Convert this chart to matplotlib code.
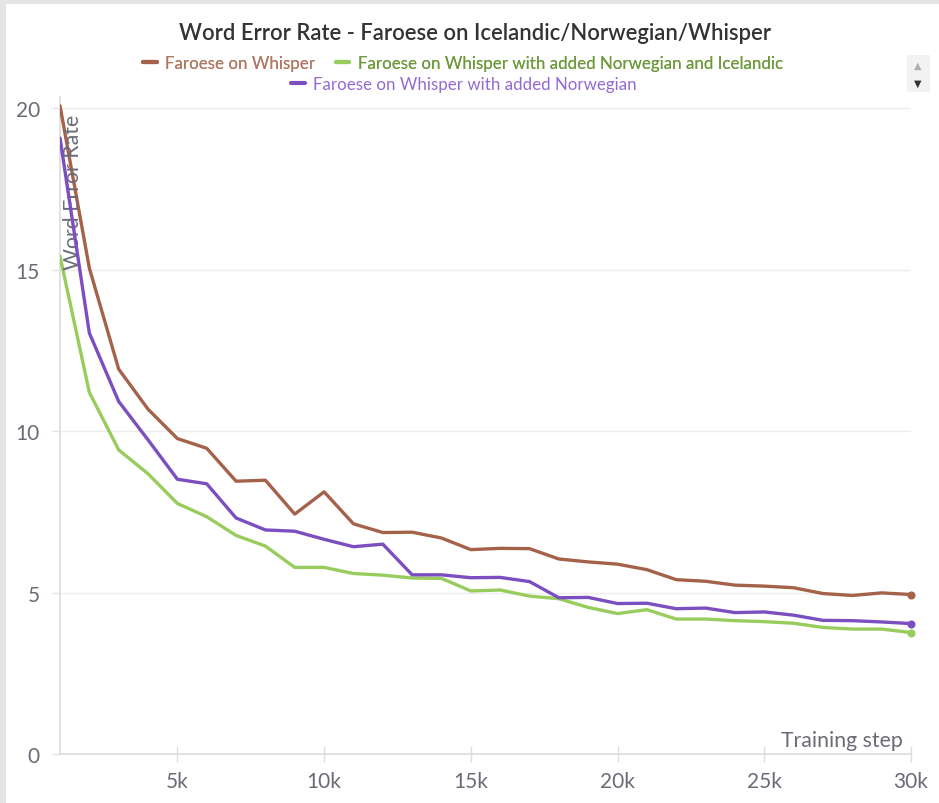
import matplotlib
matplotlib.use("Agg")
import matplotlib.pyplot as plt
from matplotlib.patches import Rectangle
from matplotlib.ticker import FuncFormatter

# ---- data ----
steps = list(range(1000, 31000, 1000))
wer_whisper = [20.08, 15.05, 11.92, 10.68, 9.77, 9.47, 8.45, 8.48, 7.43, 8.12,
               7.13, 6.86, 6.87, 6.69, 6.33, 6.37, 6.36, 6.04, 5.95, 5.88,
               5.71, 5.40, 5.35, 5.23, 5.20, 5.15, 4.97, 4.91, 4.99, 4.94]
wer_nor_ice = [15.42, 11.20, 9.42, 8.68, 7.76, 7.35, 6.77, 6.44, 5.78, 5.78,
               5.59, 5.54, 5.45, 5.44, 5.05, 5.08, 4.89, 4.81, 4.54, 4.35,
               4.47, 4.18, 4.18, 4.13, 4.10, 4.05, 3.92, 3.87, 3.87, 3.76]
wer_nor = [19.08, 13.04, 10.92, 9.73, 8.51, 8.37, 7.31, 6.94, 6.90, 6.65,
           6.42, 6.50, 5.55, 5.55, 5.46, 5.47, 5.34, 4.84, 4.85, 4.66,
           4.67, 4.50, 4.52, 4.38, 4.40, 4.30, 4.14, 4.13, 4.09, 4.04]
labels = ["Faroese on Whisper",
          "Faroese on Whisper with added Norwegian and Icelandic",
          "Faroese on Whisper with added Norwegian"]
yticks = [0, 5, 10, 15, 20]
xticks = [5000, 10000, 15000, 20000, 25000, 30000]

c_brown = "#a5624a"
c_green = "#98cc5c"
c_purple = "#7b4fc0"
t_brown = "#b07862"
t_green = "#6f9a3c"
t_purple = "#946ad2"
gray_txt = "#6b6b78"

plt.rcParams['font.family'] = ['Lato', 'DejaVu Sans']

W, H = 939, 804
fig = plt.figure(figsize=(W / 100, H / 100), dpi=100, facecolor="#e4e4e4")
fig.patches.append(Rectangle((6 / W, 0), 1, 1 - 5 / H, transform=fig.transFigure,
                             facecolor="white", edgecolor="none", zorder=-5))

ax = fig.add_axes([60 / W, (H - 755) / H, 851 / W, (755 - 98) / H])
ax.set_facecolor("none")

l1, = ax.plot(steps, wer_whisper, color=c_brown, lw=2.4, solid_capstyle="round", zorder=3)
l2, = ax.plot(steps, wer_nor_ice, color=c_green, lw=2.4, solid_capstyle="round", zorder=3)
l3, = ax.plot(steps, wer_nor, color=c_purple, lw=2.4, solid_capstyle="round", zorder=4)
for s, c in ((wer_whisper, c_brown), (wer_nor_ice, c_green), (wer_nor, c_purple)):
    ax.plot(steps[-1:], s[-1:], "o", color=c, ms=4.8, zorder=5, clip_on=False)

ax.set_xlim(1000, 30000)
ax.set_ylim(0, 20.35)
ax.set_yticks(yticks)
ax.set_xticks(xticks)
ax.xaxis.set_major_formatter(FuncFormatter(lambda v, p: f"{int(v/1000)}k"))
ax.grid(axis="y", color="#ededed", lw=1)
ax.set_axisbelow(True)
for sp in ("top", "right"):
    ax.spines[sp].set_visible(False)
for sp in ("left", "bottom"):
    ax.spines[sp].set_color("#dcdcdc")
    ax.spines[sp].set_linewidth(1.2)
ax.tick_params(axis="y", colors="#e4e4e4", labelcolor=gray_txt, labelsize=15,
               length=5.8, width=1, pad=8.6)
ax.tick_params(axis="x", colors="#dcdcdc", labelcolor=gray_txt, labelsize=15,
               direction="inout", length=11, width=1, pad=7)

ax.text(0.004, 0.975, "Word Error Rate", transform=ax.transAxes, rotation=90,
        ha="left", va="top", fontsize=15.3, color=gray_txt)
ax.text(0.9906, 0.006, "Training step", transform=ax.transAxes,
        ha="right", va="bottom", fontsize=15.3, color=gray_txt)

fig.text(475 / W, 1 - 33 / H, "Word Error Rate - Faroese on Icelandic/Norwegian/Whisper",
         ha="center", va="center", fontsize=15.8, color="#333333", fontweight="semibold")

leg1 = fig.legend([l1, l2], labels[:2], loc="center", bbox_to_anchor=(463 / W, 1 - 64 / H),
                  ncol=2, frameon=False, fontsize=12.2, handlelength=0.8, handletextpad=0.5,
                  columnspacing=1.2, borderaxespad=0, borderpad=0)
leg2 = fig.legend([l3], labels[2:], loc="center", bbox_to_anchor=(464 / W, 1 - 85 / H),
                  frameon=False, fontsize=12.2, handlelength=0.8, handletextpad=0.5,
                  borderaxespad=0, borderpad=0)
for txt, col in zip(leg1.get_texts(), (t_brown, t_green)):
    txt.set_color(col)
for txt in leg2.get_texts():
    txt.set_color(t_purple)
for lg in (leg1, leg2):
    for h in lg.legend_handles:
        h.set_linewidth(3)
fig.add_artist(leg1)

# scroll widget
fig.patches.append(Rectangle((907 / W, 1 - 93 / H), 23 / W, 37 / H, transform=fig.transFigure,
                             facecolor="#f2f2f2", edgecolor="none"))
fig.text(918 / W, 1 - 66 / H, "▲", ha="center", va="center", fontsize=7,
         color="#b0b0b0", family="DejaVu Sans")
fig.text(918 / W, 1 - 84 / H, "▼", ha="center", va="center", fontsize=7,
         color="#333333", family="DejaVu Sans")

fig.savefig("out.png", dpi=100, facecolor=fig.get_facecolor())
